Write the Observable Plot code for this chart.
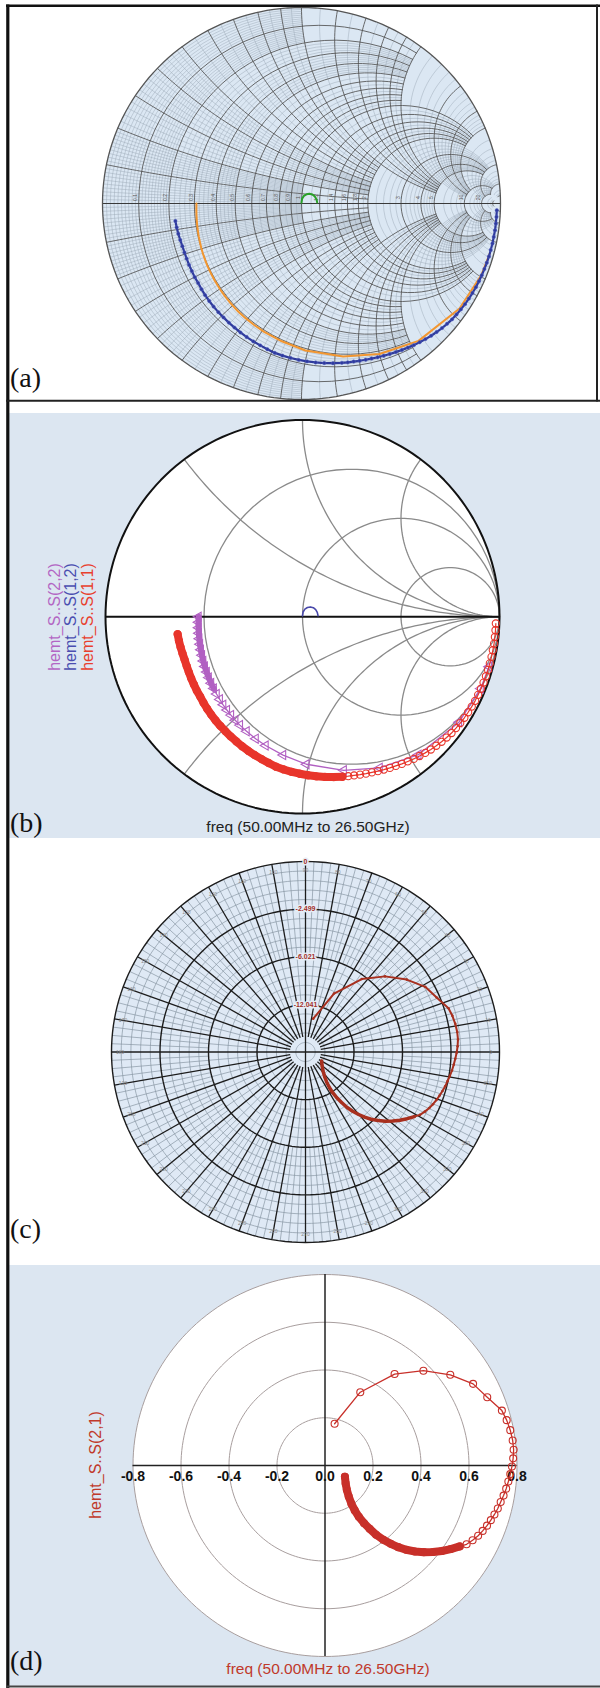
<!DOCTYPE html>
<html><head><meta charset="utf-8">
<script src="https://cdn.jsdelivr.net/npm/d3@7"></script>
<script src="https://cdn.jsdelivr.net/npm/@observablehq/plot@0.6"></script>
<style>
html,body{margin:0;padding:0;background:#fff;}
#page{position:relative;width:600px;height:1688px;overflow:hidden;background:#fff;}
.bg{position:absolute;left:9px;width:591px;background:#dce6f1;}
</style></head><body><div id="page"></div>
<script>
// ---------- DATA ----------
// S11: angle (deg) and magnitude, 50 MHz -> 26.5 GHz
const s11Ang = [-172,-169,-166,-163,-160,-157,-154,-151,-148,-145,-142,-139,-136,-133,-130,-127,-124,-121,-118,-115,-112,-109,-106,-103,-100,-97,-94,-91,-88,-85,-82,-79,-76,
  -74,-72,-70,-68,-66,-64,-62,-60,-58,-56,-54,-52,-50,-48,-46,-44,-42,-40,-38,-36,-34,-32,-30,-28,-26,-24,-22,-20,-18,-16,-14,-12,-10,-8,-6,-4,-2];
const s11Mag = [.640,.639,.638,.637,.637,.639,.642,.646,.650,.655,.659,.666,.673,.680,.687,.694,.701,.709,.717,.726,.735,.744,.753,.763,.774,.782,.790,.798,.806,.814,.822,.830,.838,
  .843,.848,.854,.860,.866,.873,.880,.887,.894,.902,.909,.917,.924,.931,.938,.944,.950,.955,.960,.963,.966,.969,.971,.973,.975,.976,.977,.978,.979,.980,.980,.981,.981,.982,.982,.982,.982];
const s11DenseCount = 33;
// S22
const s22Ang = [-180,-177,-174,-171,-168,-165,-162,-159,-156,-153,-150,-147,-144,-141,-138,-135,-132,-129,-126,-123,-120,-116,-111,-106,-98,-88.5,-75,-63,-50,-34,-22,-15];
const s22Mag = [.528,.529,.531,.533,.536,.539,.543,.547,.552,.557,.562,.568,.574,.580,.587,.594,.602,.610,.618,.627,.636,.648,.664,.681,.710,.750,.808,.862,.915,.958,.975,.980];
const s22DenseCount = 14;
// S12 (real, imaginary)
const s12Re = [0.000,0.003,0.012,0.025,0.040,0.055,0.067,0.075,0.079];
const s12Im = [0.004,0.024,0.039,0.047,0.050,0.046,0.036,0.022,0.005];
// S21 (real, imaginary)
const s21Re = [0.083,0.086,0.091,0.099,0.110,0.124,0.141,0.163,0.186,0.213,0.243,0.274,0.305,0.338,0.375,0.412,0.450,0.487,0.524,0.561,
  0.590,0.615,0.638,0.657,0.675,0.691,0.706,0.720,0.732,0.744,0.755,0.764,0.772,0.779,0.784,0.786,0.782,0.772,0.757,0.737,0.676,0.617,0.522,0.410,0.290,0.147,0.040];
const s21Im = [-0.047,-0.075,-0.102,-0.130,-0.160,-0.188,-0.215,-0.242,-0.265,-0.290,-0.311,-0.328,-0.342,-0.353,-0.360,-0.363,-0.362,-0.358,-0.350,-0.339,
  -0.330,-0.313,-0.294,-0.274,-0.252,-0.229,-0.205,-0.180,-0.153,-0.126,-0.097,-0.067,-0.036,-0.004,0.030,0.066,0.105,0.148,0.190,0.230,0.286,0.342,0.380,0.397,0.383,0.307,0.175];
const s21DenseCount = 20;

// Smith chart grid values
const smithMain = [0.1,0.2,0.3,0.4,0.5,0.6,0.7,0.8,0.9,1,1.2,1.4,1.6,1.8,2,3,4,5,10,20,50];
const smithFine = [0.01,0.02,0.03,0.04,0.05,0.06,0.07,0.08,0.09,0.11,0.12,0.13,0.14,0.15,0.16,0.17,0.18,0.19,
  0.22,0.24,0.26,0.28,0.32,0.34,0.36,0.38,0.42,0.44,0.46,0.48,0.55,0.65,0.75,0.85,0.95,1.1,1.3,1.5,1.7,1.9,
  2.2,2.4,2.6,2.8,3.2,3.4,3.6,3.8,4.2,4.4,4.6,4.8,6,7,8,9,12,14,16,18,30,40];
const smithBR = [1/3, 1, 3];
const smithBX = [0.5, 1, 2];
// Polar chart (c)
const polarRings = [0.25, 0.5, 0.75, 1];
const polarRingLabels = ["-12.041", "-6.021", "-2.499", "0"];
// Polar chart (d)
const dRings = [0.2, 0.4, 0.6, 0.8];
const dTicks = [-0.8,-0.6,-0.4,-0.2,0,0.2,0.4,0.6,0.8];
const dTickLabels = ["-0.8","-0.6","-0.4","-0.2","0.0","0.2","0.4","0.6","0.8"];
const legendB = ["hemt_S..S(2,2)", "hemt_S..S(1,2)", "hemt_S..S(1,1)"];
const freqLabel = "freq (50.00MHz to 26.50GHz)";
const yLabelD = "hemt_S..S(2,1)";
const panelLabels = ["(a)", "(b)", "(c)", "(d)"];

// ---------- BUILD ----------
const page = document.getElementById("page");
const rad = Math.PI / 180;
const toPts = (ang, mag) => ang.map((a, i) => ({re: mag[i] * Math.cos(a * rad), im: mag[i] * Math.sin(a * rad), i}));
const s11 = toPts(s11Ang, s11Mag), s22 = toPts(s22Ang, s22Mag);
const s12 = s12Re.map((re, i) => ({re, im: s12Im[i], i}));
const s21 = s21Re.map((re, i) => ({re, im: s21Im[i], i}));

function ringRows(vals, step = 2) {
  const rows = [];
  for (const v of vals) for (let a = 0; a <= 360; a += step) rows.push({id: "c" + v, x: v * Math.cos(a * rad), y: v * Math.sin(a * rad)});
  return rows;
}
function z2g(r, x) { const d = (r + 1) * (r + 1) + x * x; return [(r * r - 1 + x * x) / d, 2 * x / d]; }
function smithRows(vals, lim, n = 40) {
  const rows = [];
  for (const v of vals) {
    const L = lim(v);
    const aMax = Math.atan(L / (1 + v));
    for (let i = 0; i <= n; i++) { const a = -aMax + 2 * aMax * i / n; const [gr, gi] = z2g(v, (1 + v) * Math.tan(a)); rows.push({id: "r" + v, gr, gi}); }
    const b0 = Math.atan(v / (L + 1)), b1 = Math.atan(v);
    for (const s of [1, -1]) for (let i = 0; i <= n; i++) {
      const b = b0 + (b1 - b0) * i / n; const r = Math.max(v / Math.tan(b) - 1, 0);
      const [gr, gi] = z2g(r, s * v); rows.push({id: "x" + (s * v), gr, gi});
    }
  }
  return rows;
}
function addBg(top, h) { const d = document.createElement("div"); d.className = "bg"; d.style.top = top + "px"; d.style.height = h + "px"; page.appendChild(d); }
function addPlot(top, height, xd, xr, yd, yr, marks) {
  const svg = Plot.plot({width: 600, height, margin: 0,
    x: {domain: xd, range: xr, axis: null}, y: {domain: yd, range: yr, axis: null},
    style: {background: "none", overflow: "visible"}, marks});
  svg.style.position = "absolute"; svg.style.top = top + "px"; svg.style.left = "0px";
  page.appendChild(svg);
}

addBg(413, 425);
addBg(1265, 421);

// ----- (a) classic Smith chart -----
const limMain = v => v < 1 ? 2 : v <= 2 ? 5 : v <= 5 ? 10 : 20;
const limFine = v => v < 0.2 ? 1 : v < 1 ? 2 : v < 2 ? 5 : v < 5 ? 10 : 20;
const unit = ringRows([1]);
addPlot(0, 401, [-1, 1], [102, 500], [-1, 1], [399, 7], [
  Plot.line(unit, {x: "x", y: "y", fill: "#dbe7f3", stroke: "none"}),
  Plot.line(smithRows(smithFine, limFine), {x: "gr", y: "gi", z: "id", stroke: "#98a6b4", strokeWidth: 0.45}),
  Plot.line(smithRows(smithMain, limMain, 60), {x: "gr", y: "gi", z: "id", stroke: "#505050", strokeWidth: 0.85}),
  Plot.ruleY([0], {x1: -1, x2: 1, stroke: "#3a3a3a", strokeWidth: 1}),
  Plot.line(unit, {x: "x", y: "y", stroke: "#555", strokeWidth: 1.3}),
  Plot.text(smithMain.filter(v => v <= 20), {x: v => (v - 1) / (v + 1), y: 0, text: v => String(v), rotate: -90, fontSize: 5, fill: "#555", dx: -3, dy: -6, fontFamily: "Liberation Sans"}),
  Plot.line(s22, {x: "re", y: "im", stroke: "#f29630", strokeWidth: 2}),
  Plot.line(s11, {x: "re", y: "im", stroke: "#2e3a9c", strokeWidth: 2.2}),
  Plot.dot(s11, {x: "re", y: "im", r: 1.7, fill: "#2e3a9c", stroke: "#5560c0", strokeWidth: 0.5}),
  Plot.line(s12, {x: "re", y: "im", stroke: "#2aa02a", strokeWidth: 2})
]);

// ----- (b) ADS Smith chart -----
addPlot(413, 425, [-1, 1], [105, 499], [-1, 1], [400, 6.5], [
  Plot.line(unit, {x: "x", y: "y", fill: "#ffffff", stroke: "none"}),
  Plot.line(smithRows(smithBR, () => 1e6, 90).filter(d => d.id.startsWith("r")), {x: "gr", y: "gi", z: "id", stroke: "#8a8a8a", strokeWidth: 1.3}),
  Plot.line(smithRows(smithBX, () => 1e6, 90).filter(d => d.id.startsWith("x")), {x: "gr", y: "gi", z: "id", stroke: "#8a8a8a", strokeWidth: 1.3}),
  Plot.ruleY([0], {x1: -1, x2: 1, stroke: "#111", strokeWidth: 2}),
  Plot.line(unit, {x: "x", y: "y", stroke: "#111", strokeWidth: 2}),
  Plot.line(s12, {x: "re", y: "im", stroke: "#4848aa", strokeWidth: 1.6}),
  Plot.line(s22.slice(0, s22DenseCount), {x: "re", y: "im", stroke: "#b160c2", strokeWidth: 6, strokeLinecap: "round"}),
  Plot.line(s22, {x: "re", y: "im", stroke: "#b160c2", strokeWidth: 1.3}),
  Plot.dot(s22, {x: "re", y: "im", symbol: "triangle", rotate: -90, r: 3.4, stroke: "#b160c2", strokeWidth: 1.1, fill: "none"}),
  Plot.line(s11.slice(0, s11DenseCount), {x: "re", y: "im", stroke: "#e8352b", strokeWidth: 8, strokeLinecap: "round"}),
  Plot.line(s11, {x: "re", y: "im", stroke: "#e8352b", strokeWidth: 1.2}),
  Plot.dot(s11, {x: "re", y: "im", r: 3.6, stroke: "#e8352b", strokeWidth: 1.1, fill: "none"})
]);

// ----- (c) polar chart paper -----
const fineRings = d3.range(1, 20).map(k => k * 0.05).filter(v => Math.abs(v * 4 - Math.round(v * 4)) > 1e-6);
const radOuter = d3.range(0, 360, 2.5).filter(a => a % 10 !== 0).map(a => ({a, r0: 0.5, r1: 1}));
const radMid = d3.range(0, 360, 5).filter(a => a % 10 !== 0).map(a => ({a, r0: 0.25, r1: 0.5}));
const spokes = d3.range(0, 360, 10).map(a => ({a, r0: a % 90 === 0 ? 0 : 0.08, r1: 1}));
const seg = (d, r) => r * Math.cos(d.a * rad);
const segY = (d, r) => r * Math.sin(d.a * rad);
addPlot(838, 427, [-1, 1], [111, 499], [-1, 1], [404, 23], [
  Plot.line(unit, {x: "x", y: "y", fill: "#dfe9f5", stroke: "none"}),
  Plot.line(ringRows(fineRings), {x: "x", y: "y", z: "id", stroke: "#8896a4", strokeWidth: 0.7}),
  Plot.link(radOuter.concat(radMid), {x1: d => seg(d, d.r0), y1: d => segY(d, d.r0), x2: d => seg(d, d.r1), y2: d => segY(d, d.r1), stroke: "#8896a4", strokeWidth: 0.7}),
  Plot.line(ringRows(polarRings), {x: "x", y: "y", z: "id", stroke: "#1c1c1c", strokeWidth: 1.4}),
  Plot.link(spokes, {x1: d => seg(d, d.r0), y1: d => segY(d, d.r0), x2: d => seg(d, d.r1), y2: d => segY(d, d.r1), stroke: "#1c1c1c", strokeWidth: 1.3}),
  Plot.text(d3.range(0, 360, 10), {x: a => 0.955 * Math.cos(a * rad), y: a => 0.955 * Math.sin(a * rad), text: a => String(a), fontSize: 5, fill: "#8a8a8a", fontFamily: "Liberation Sans"}),
  Plot.text(polarRings, {x: 0, y: r => r, text: (r, i) => polarRingLabels[i], fontSize: 7, fill: "#a3302a", stroke: "#e6edf5", strokeWidth: 3, fontFamily: "Liberation Sans", fontWeight: "bold"}),
  Plot.line(s21.slice(0, s21DenseCount), {x: "re", y: "im", stroke: "#a8301f", strokeWidth: 3.5, strokeLinecap: "round"}),
  Plot.line(s21, {x: "re", y: "im", stroke: "#a8301f", strokeWidth: 2}),
  Plot.dot(s21, {x: "re", y: "im", r: 1.3, fill: "#a8301f"})
]);

// ----- (d) ADS polar plot -----
addPlot(1265, 421, [-0.8, 0.8], [132.5, 516.5], [-0.8, 0.8], [391, 9], [
  Plot.line(ringRows([0.8]), {x: "x", y: "y", fill: "#ffffff", stroke: "none"}),
  Plot.line(ringRows(dRings), {x: "x", y: "y", z: "id", stroke: "#a89e9e", strokeWidth: 1}),
  Plot.ruleY([0], {x1: dTicks[0], x2: dTicks[dTicks.length - 1], stroke: "#222", strokeWidth: 1.5}),
  Plot.ruleX([0], {y1: dTicks[0], y2: dTicks[dTicks.length - 1], stroke: "#222", strokeWidth: 1.5}),
  Plot.text(dTicks, {x: d => d, y: 0, text: (d, i) => dTickLabels[i], dy: 11, fontSize: 14, fontWeight: "bold", fill: "#111", fontFamily: "Liberation Sans"}),
  Plot.line(s21.slice(0, s21DenseCount), {x: "re", y: "im", stroke: "#c8302a", strokeWidth: 8, strokeLinecap: "round"}),
  Plot.line(s21, {x: "re", y: "im", stroke: "#c8302a", strokeWidth: 1.3}),
  Plot.dot(s21, {x: "re", y: "im", r: 3.5, stroke: "#c8302a", strokeWidth: 1.1, fill: "none"})
]);

// ----- frame, panel letters, captions and legends -----
const ov = d3.select(page).append("svg").attr("width", 600).attr("height", 1688)
  .style("position", "absolute").style("left", "0px").style("top", "0px");
const ln = (x1, y1, x2, y2, c, w) => ov.append("line").attr("x1", x1).attr("y1", y1).attr("x2", x2).attr("y2", y2).attr("stroke", c).attr("stroke-width", w);
ln(6, 5.7, 600, 5.7, "#111", 2.5);
ln(7.8, 4.5, 7.8, 1688, "#111", 3.2);
ln(597, 4.5, 597, 401.5, "#222", 2);
ln(6, 400.8, 600, 400.8, "#222", 2);
ln(6, 1686.5, 600, 1686.5, "#444", 2);
const serif = "'Liberation Serif','Times New Roman',serif";
const sans = "'Liberation Sans',Arial,sans-serif";
[[387, 0], [832, 1], [1238, 2], [1670, 3]].forEach(([y, i]) =>
  ov.append("text").attr("x", 10).attr("y", y).attr("font-family", serif).attr("font-size", 28).attr("fill", "#111").text(panelLabels[i]));
ov.append("text").attr("x", 308).attr("y", 832).attr("text-anchor", "middle").attr("font-family", sans).attr("font-size", 15.5).attr("fill", "#222").text(freqLabel);
ov.append("text").attr("x", 328).attr("y", 1674).attr("text-anchor", "middle").attr("font-family", sans).attr("font-size", 15.5).attr("fill", "#c0392b").text(freqLabel);
const legColors = ["#b366c4", "#4a4eb0", "#e8402e"];
[59.5, 76, 92.5].forEach((x, i) =>
  ov.append("text").attr("transform", `translate(${x},617) rotate(-90)`).attr("text-anchor", "middle").attr("font-family", sans).attr("font-size", 16).attr("fill", legColors[i]).text(legendB[i]));
ov.append("text").attr("transform", "translate(100.5,1465) rotate(-90)").attr("text-anchor", "middle").attr("font-family", sans).attr("font-size", 16).attr("fill", "#c0392b").text(yLabelD);
</script></body></html>
